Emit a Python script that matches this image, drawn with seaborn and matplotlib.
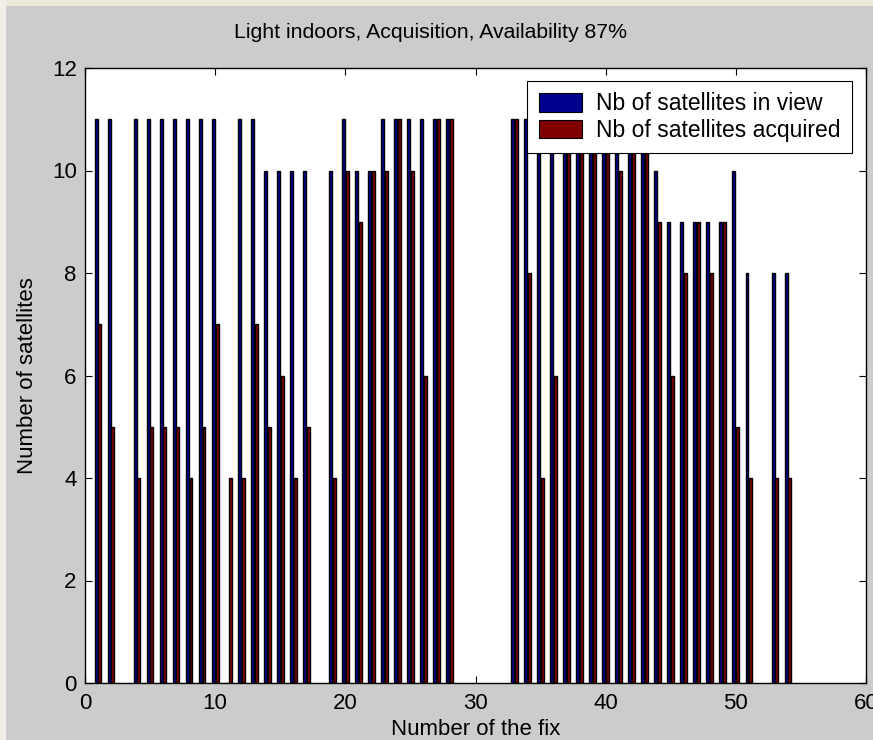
import numpy as np
import pandas as pd
import matplotlib
matplotlib.use('Agg')
import matplotlib.pyplot as plt
import matplotlib.patches as mpatches
import seaborn as sns

# fixes with data (3, 18, 29-32, 52 are empty)
fixes = [1, 2, 4, 5, 6, 7, 8, 9, 10, 11, 12, 13, 14, 15, 16, 17, 19, 20, 21, 22,
         23, 24, 25, 26, 27, 28, 33, 34, 35, 36, 37, 38, 39, 40, 41, 42, 43, 44,
         45, 46, 47, 48, 49, 50, 51, 53, 54]
in_view = [11, 11, 11, 11, 11, 11, 11, 11, 11, 0, 11, 11, 10, 10, 10, 10, 10, 11, 10, 10,
           11, 11, 11, 11, 11, 11, 11, 11, 11, 11, 11, 11, 11, 11, 11, 11, 11, 10,
           9, 9, 9, 9, 9, 10, 8, 8, 8]
acquired = [7, 5, 4, 5, 5, 5, 4, 5, 7, 4, 4, 7, 5, 6, 4, 5, 4, 10, 9, 10,
            10, 11, 10, 6, 11, 11, 11, 8, 4, 6, 11, 11, 11, 11, 10, 11, 11, 9,
            6, 8, 9, 8, 9, 5, 4, 4, 4]
series_names = ['Nb of satellites in view', 'Nb of satellites acquired']
series_colors = ['#00008F', '#800000']

df = pd.concat([
    pd.DataFrame({'fix': fixes, 'count': in_view, 'series': series_names[0]}),
    pd.DataFrame({'fix': fixes, 'count': acquired, 'series': series_names[1]}),
])

W, H = 873, 740
fig = plt.figure(figsize=(W / 100, H / 100), dpi=100)
fig.patch.set_facecolor('#CCCCCC')
# window frame strips
fig.patches.append(mpatches.Rectangle((0, 1 - 6 / H), 1, 6 / H, transform=fig.transFigure,
                                      facecolor='#ECE9D8', edgecolor='none'))
fig.patches.append(mpatches.Rectangle((0, 0), 6 / W, 1, transform=fig.transFigure,
                                      facecolor='#F0EEE6', edgecolor='none'))

ax = fig.add_axes([85 / W, (H - 683) / H, (866 - 85) / W, (683 - 68) / H])
ax.set_facecolor('white')

sns.barplot(data=df, x='fix', y='count', hue='series', hue_order=series_names,
            palette=dict(zip(series_names, series_colors)), native_scale=True,
            width=0.571, gap=0.2, saturation=1, errorbar=None,
            edgecolor='black', linewidth=1.0, legend=False, ax=ax)

ax.set_xlim(0, 60)
ax.set_ylim(0, 12)
ax.set_xticks(np.arange(0, 61, 10))
ax.set_yticks(np.arange(0, 13, 2))

font = ['Liberation Sans', 'DejaVu Sans']
ax.tick_params(direction='in', length=5, width=0.8, top=True, right=True,
               labelsize=16, colors='black')
ax.tick_params(axis='x', pad=7)
ax.tick_params(axis='y', pad=6)
for lab in ax.get_xticklabels() + ax.get_yticklabels():
    lab.set_family(font)

for s in ax.spines.values():
    s.set_color('black')
    s.set_linewidth(1.0)

ax.set_xlabel('Number of the fix', fontsize=16, family=font, labelpad=4)
ax.set_ylabel('Number of satellites', fontsize=16, family=font, labelpad=10)

fig.text(430 / W, 1 - 32 / H, 'Light indoors, Acquisition, Availability 87%',
         ha='center', va='center', fontsize=15.3, family=font)

handles = [mpatches.Patch(facecolor=c, edgecolor='black', linewidth=0.8, label=n)
           for n, c in zip(series_names, series_colors)]
leg = ax.legend(handles=handles, loc='upper right', bbox_to_anchor=(0.982, 0.979),
                borderaxespad=0, fancybox=False, framealpha=1, edgecolor='black',
                prop={'family': font, 'size': 16.5},
                handlelength=1.9, handleheight=0.85, handletextpad=0.6,
                labelspacing=0.15, borderpad=0.5)
leg.get_frame().set_linewidth(0.8)

fig.savefig('out.png', dpi=100, facecolor=fig.get_facecolor())
